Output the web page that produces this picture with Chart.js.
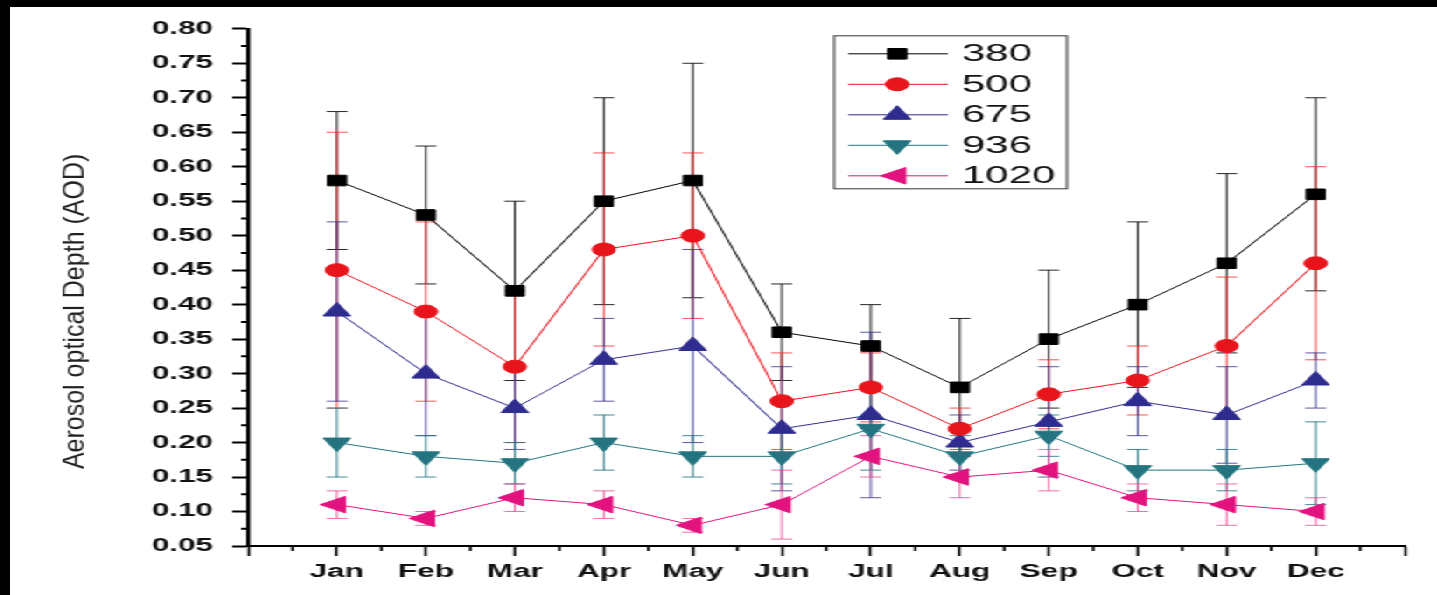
<!DOCTYPE html>
<html>
<head>
<meta charset="utf-8">
<script src="https://cdn.jsdelivr.net/npm/chart.js"></script>
<style>
  html, body { margin: 0; padding: 0; background: #000; overflow: hidden; }
  /* the source figure is stretched sideways, so the canvas is too */
  #wrap { position: absolute; left: 10px; top: 7px; width: 816px; height: 588px;
          background: #fff; transform: scaleX(1.75); transform-origin: 0 0; }
</style>
</head>
<body>
<div id="wrap"><canvas id="aod" width="816" height="588"></canvas></div>
<script>
// data
const months = ['Jan', 'Feb', 'Mar', 'Apr', 'May', 'Jun', 'Jul', 'Aug', 'Sep', 'Oct', 'Nov', 'Dec'];
const wavelengths = ['380', '500', '675', '936', '1020'];
const yTicks = [0.05, 0.80, 0.05]; // min, max, step

const aod380 = [0.58, 0.53, 0.42, 0.55, 0.58, 0.36, 0.34, 0.28, 0.35, 0.40, 0.46, 0.56];
const aod500 = [0.45, 0.39, 0.31, 0.48, 0.50, 0.26, 0.28, 0.22, 0.27, 0.29, 0.34, 0.46];
const aod675 = [0.39, 0.30, 0.25, 0.32, 0.34, 0.22, 0.24, 0.20, 0.23, 0.26, 0.24, 0.29];
const aod936 = [0.20, 0.18, 0.17, 0.20, 0.18, 0.18, 0.22, 0.18, 0.21, 0.16, 0.16, 0.17];
const aod1020 = [0.11, 0.09, 0.12, 0.11, 0.08, 0.11, 0.18, 0.15, 0.16, 0.12, 0.11, 0.10];

// standard deviation (error bars)
const err380 = [0.10, 0.10, 0.13, 0.15, 0.17, 0.07, 0.06, 0.10, 0.10, 0.12, 0.13, 0.14];
const err500 = [0.20, 0.13, 0.11, 0.14, 0.12, 0.07, 0.05, 0.03, 0.05, 0.05, 0.10, 0.14];
const err675 = [0.13, 0.09, 0.06, 0.06, 0.14, 0.09, 0.12, 0.04, 0.08, 0.05, 0.07, 0.04];
const err936 = [0.05, 0.03, 0.03, 0.04, 0.03, 0.04, 0.06, 0.03, 0.03, 0.03, 0.03, 0.06];
const err1020 = [0.02, 0.01, 0.02, 0.02, 0.01, 0.05, 0.03, 0.03, 0.03, 0.02, 0.03, 0.02];

const series = [aod380, aod500, aod675, aod936, aod1020];
const errors = [err380, err500, err675, err936, err1020];

// styles
const colors = ['#000000', '#e8141c', '#2e2c8e', '#237480', '#e2127e'];
const barColors = ['rgba(0,0,0,0.85)', 'rgba(240,40,40,0.8)', 'rgba(50,48,140,0.8)', 'rgba(35,116,128,0.85)', 'rgba(236,60,140,0.75)'];
const markers = [
    {style: 'rect', radius: 7.5, rotation: 0},
    {style: 'circle', radius: 6.5, rotation: 0},
    {style: 'triangle', radius: 9, rotation: 0},
    {style: 'triangle', radius: 9, rotation: 180},
    {style: 'triangle', radius: 9.5, rotation: -90}
];
const STRETCH = 1.75;

const datasets = wavelengths.map((w, i) => ({
    label: w,
    data: series[i].map((v, j) => ({x: j + 1, y: v})),
    borderColor: colors[i],
    backgroundColor: colors[i],
    borderWidth: 1,
    pointStyle: markers[i].style,
    pointRadius: markers[i].radius,
    pointRotation: markers[i].rotation,
    pointBorderWidth: 1,
    tension: 0
}));

// error bars, drawn through the scales
const errorBars = {
    id: 'errorBars',
    beforeDatasetsDraw(chart) {
        const {ctx, scales: {x, y}} = chart;
        ctx.save();
        ctx.lineWidth = 1;
        chart.data.datasets.forEach((ds, i) => {
            ctx.strokeStyle = barColors[i];
            ds.data.forEach((p, j) => {
                const px = x.getPixelForValue(p.x);
                const top = y.getPixelForValue(p.y + errors[i][j]);
                const bot = y.getPixelForValue(p.y - errors[i][j]);
                ctx.beginPath();
                ctx.moveTo(px, top); ctx.lineTo(px, bot);
                ctx.moveTo(px - 6, top); ctx.lineTo(px + 6, top);
                ctx.moveTo(px - 6, bot); ctx.lineTo(px + 6, bot);
                ctx.stroke();
            });
        });
        ctx.restore();
    }
};

// minor ticks on both axes
const minorTicks = {
    id: 'minorTicks',
    afterDraw(chart) {
        const {ctx, scales: {x, y}} = chart;
        ctx.save();
        ctx.strokeStyle = '#000';
        ctx.lineWidth = 2;
        ctx.beginPath();
        for (let v = yTicks[0] + yTicks[2] / 2; v < yTicks[1]; v += yTicks[2]) {
            const py = y.getPixelForValue(v);
            ctx.moveTo(y.right - 4, py); ctx.lineTo(y.right, py);
        }
        ctx.stroke();
        ctx.lineWidth = 1.5;
        ctx.beginPath();
        for (let v = 0.5; v < 13; v += 1) {
            const px = x.getPixelForValue(v);
            ctx.moveTo(px, x.top); ctx.lineTo(px, x.top + 5);
        }
        ctx.stroke();
        ctx.restore();
    }
};

// boxed legend inside the plot + y title (title drawn less stretched)
const boxLegend = {
    id: 'boxLegend',
    afterDraw(chart) {
        const {ctx, chartArea} = chart;
        const left = chartArea.left + 335;
        const top = chartArea.top + 7;
        ctx.save();
        ctx.strokeStyle = '#333';
        ctx.lineWidth = 1;
        ctx.strokeRect(left, top, 133, 153);
        ctx.font = '24px "Liberation Sans", Arial, sans-serif';
        ctx.textBaseline = 'middle';
        ctx.fillStyle = '#111';
        chart.data.datasets.forEach((ds, i) => {
            const ry = top + 18 + i * 30.5;
            ctx.strokeStyle = colors[i];
            ctx.lineWidth = 1;
            ctx.beginPath();
            ctx.moveTo(left + 8, ry); ctx.lineTo(left + 65, ry);
            ctx.stroke();
            ctx.fillStyle = colors[i];
            Chart.helpers.drawPoint(ctx, {
                pointStyle: markers[i].style,
                radius: markers[i].radius,
                rotation: markers[i].rotation,
                borderWidth: 1
            }, left + 36, ry);
            ctx.fillStyle = '#111';
            ctx.fillText(ds.label, left + 73, ry + 1);
        });
        ctx.restore();

        ctx.save();
        ctx.translate(37, (chartArea.top + chartArea.bottom) / 2 + 24);
        ctx.scale(1.15 / STRETCH, 1);
        ctx.rotate(-Math.PI / 2);
        ctx.font = '25px "Liberation Sans", Arial, sans-serif';
        ctx.fillStyle = '#222';
        ctx.textAlign = 'center';
        ctx.textBaseline = 'middle';
        ctx.fillText('Aerosol optical Depth (AOD)', 0, 0);
        ctx.restore();
    }
};

const ctx = document.getElementById('aod');
new Chart(ctx, {
    type: 'line',
    data: {datasets},
    options: {
        responsive: false,
        animation: false,
        layout: {padding: {left: 0, top: 18, right: 19, bottom: 0}},
        scales: {
            x: {
                type: 'linear',
                min: 0,
                max: 13,
                afterFit: (scale) => { scale.height = 49; },
                ticks: {
                    stepSize: 1,
                    autoSkip: false,
                    maxRotation: 0,
                    padding: 5,
                    color: '#111',
                    font: {family: '"Liberation Sans", Arial, sans-serif', size: 18, weight: 'bold'},
                    callback: (v) => (v >= 1 && v <= 12 ? months[v - 1] : '')
                },
                grid: {drawOnChartArea: false, drawTicks: true, tickLength: 10, tickWidth: 1.5, tickColor: '#000'},
                border: {display: true, color: '#000', width: 2}
            },
            y: {
                min: yTicks[0],
                max: yTicks[1],
                afterFit: (scale) => { scale.width = 136; },
                ticks: {
                    stepSize: yTicks[2],
                    padding: 11,
                    color: '#111',
                    font: {family: '"Liberation Sans", Arial, sans-serif', size: 18, weight: 'bold'},
                    callback: (v) => v.toFixed(2)
                },
                grid: {drawOnChartArea: false, drawTicks: true, tickLength: 9, tickWidth: 2, tickColor: '#000'},
                border: {display: true, color: '#000', width: 2.3}
            }
        },
        plugins: {
            legend: {display: false},
            tooltip: {enabled: false}
        }
    },
    plugins: [errorBars, minorTicks, boxLegend]
});
</script>
</body>
</html>
